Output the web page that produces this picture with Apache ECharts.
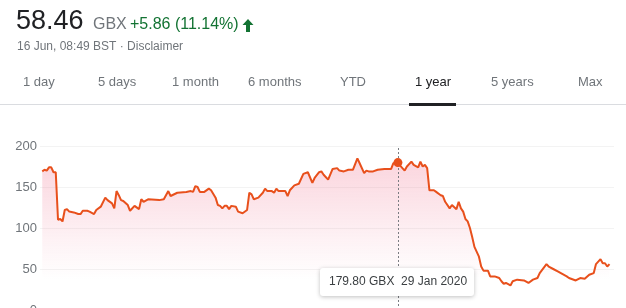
<!DOCTYPE html>
<html><head><meta charset="utf-8">
<script src="https://cdn.jsdelivr.net/npm/echarts@6/dist/echarts.min.js"></script>
<style>html,body{margin:0;padding:0;background:#fff}#c{width:626px;height:308px}</style>
</head><body><div id="c"></div>
<script>
// trading-day index (0 = 17 Jun 2019 ... 252 = 16 Jun 2020)
const days = [0,1,2,3,4,5,6,7,8,9,10,11,12,14,16,17,18,20,21,23,24,26,28,29,31,32,33,34,35,36,38,39,41,43,44,45,47,52,54,56,57,60,64,66,67,68,69,70,72,74,75,77,78,79,80,81,82,83,84,86,87,89,91,92,93,94,96,98,99,100,102,103,104,105,108,109,110,112,114,116,118,120,121,123,124,125,127,129,131,132,134,136,138,140,141,143,144,145,147,149,152,155,156,158,159,161,162,164,165,167,168,169,170,171,172,174,175,177,178,179,181,182,184,185,186,187,188,189,190,191,192,194,195,196,198,199,201,203,204,205,206,208,209,211,214,216,218,220,221,224,225,227,229,231,233,234,237,239,241,243,245,246,248,249,250,251,252];
const prices = [169,171,170,174,174,168,168,110,111,108,122,123,120,119,117,117,121,121,120,117,122,126,137,134,130,124,145,140,134,133,128,121,127,123,135,132,135,134,135,145,139,143,144,145,144,151,150,144,144,148,146,137,128,127,124,127,127,123,127,126,120,118,122,143,141,135,137,143,148,145,145,143,148,145,145,139,146,152,154,166,168,155,161,168,169,165,159,172,173,170,169,171,171,185,179,167,170,169,169,171,172,172,179,179.8,176,170,175,181,177,174,181,175,177,173,146,146,144,140,139,132,124,128,123,132,124,120,111,108,100,89,77,65,53,48,48,41,41,39,35,32,33,30,35,37,36,33,37,39,45,56,53,50,47,44,41,39,36,39,38,43,45,56,62,57,57,53,56,53,58.46];
const yTicks = [0,50,100,150,200];
const hoverDay = 158, hoverPrice = 179.80, hoverDate = '29 Jan 2020';
const tabs = ['1 day','5 days','1 month','6 months','YTD','1 year','5 years','Max'];
const tabX = [23,98,172,248,340,415,491,578];

const FONT = 'Arial, "Liberation Sans", sans-serif';
const LINE = '#e8501c';
const chart = echarts.init(document.getElementById('c'), null, {renderer:'canvas'});
const data = days.map((d,i)=>[d, prices[i]]);

const graphics = [
  {type:'text', left:16, top:8, style:{text:'58.46', font:'27px '+FONT, fill:'#202124'}},
  {type:'text', left:93, top:17, style:{text:'GBX', font:'16px '+FONT, fill:'#70757a'}},
  {type:'text', left:130, top:17, style:{text:'+5.86 (11.14%)', font:'16px '+FONT, fill:'#137333'}},
  {type:'polygon', shape:{points:[[248,19],[253.5,25],[250,25],[250,32],[246,32],[246,25],[242.5,25]]}, style:{fill:'#137333'}},
  {type:'text', left:17, top:41, style:{text:'16 Jun, 08:49 BST · Disclaimer', font:'12px '+FONT, fill:'#70757a'}},
  {type:'rect', shape:{x:0,y:104,width:626,height:1}, style:{fill:'#dadce0'}},
  {type:'rect', shape:{x:409,y:103,width:47,height:3}, style:{fill:'#202124'}},
];
tabs.forEach((t,i)=>{
  graphics.push({type:'text', left:tabX[i], top:76, style:{text:t, font:'13px '+FONT, fill: t==='1 year' ? '#202124' : '#70757a'}});
});

chart.setOption({
  animation:false,
  grid:{left:40, right:12, top:146, height:164, outerBoundsMode:'none', containLabel:false},
  xAxis:{type:'value', min:-1, max:254, show:false},
  yAxis:{type:'value', min:0, max:200, interval:50,
    axisLine:{show:false}, axisTick:{show:false},
    axisLabel:{margin:3, color:'#70757a', fontSize:13, fontFamily:FONT, formatter:v=>yTicks.includes(v)?String(v):''},
    splitLine:{lineStyle:{color:'#f3f3f3', width:1}}},
  series:[{
    type:'line', data:data, showSymbol:false, smooth:false,
    lineStyle:{color:LINE, width:2},
    areaStyle:{color:{type:'linear', x:0,y:0,x2:0,y2:1, colorStops:[
      {offset:0, color:'rgba(240,110,140,0.42)'},
      {offset:0.55, color:'rgba(240,110,140,0.12)'},
      {offset:0.8, color:'rgba(240,110,140,0.0)'},
      {offset:1, color:'rgba(240,110,140,0)'}]}},
    markLine:{silent:true, symbol:'none', label:{show:false},
      lineStyle:{color:'#7a7d82', type:[2,2], width:1},
      data:[{xAxis:hoverDay}]},
    markPoint:{silent:true, symbol:'circle', symbolSize:9, itemStyle:{color:LINE}, label:{show:false},
      data:[{coord:[hoverDay, hoverPrice]}]}
  }],
  graphic:graphics
});

const px = chart.convertToPixel({gridIndex:0}, [hoverDay, hoverPrice]);
const boxW = 154, boxH = 28;
const bx = Math.round(px[0] - 78), by = 268;
chart.setOption({graphic: graphics.concat([
  {type:'rect', shape:{x:bx, y:by, width:boxW, height:boxH, r:3},
    style:{fill:'#fff', shadowBlur:4, shadowOffsetY:1, shadowColor:'rgba(0,0,0,0.25)'}, z:100},
  {type:'text', x:bx+9, y:by+boxH/2, z:101,
    style:{text:hoverPrice.toFixed(2)+' GBX  '+hoverDate, font:'12px '+FONT, fill:'#3c4043', verticalAlign:'middle'}}
])});
</script></body></html>
